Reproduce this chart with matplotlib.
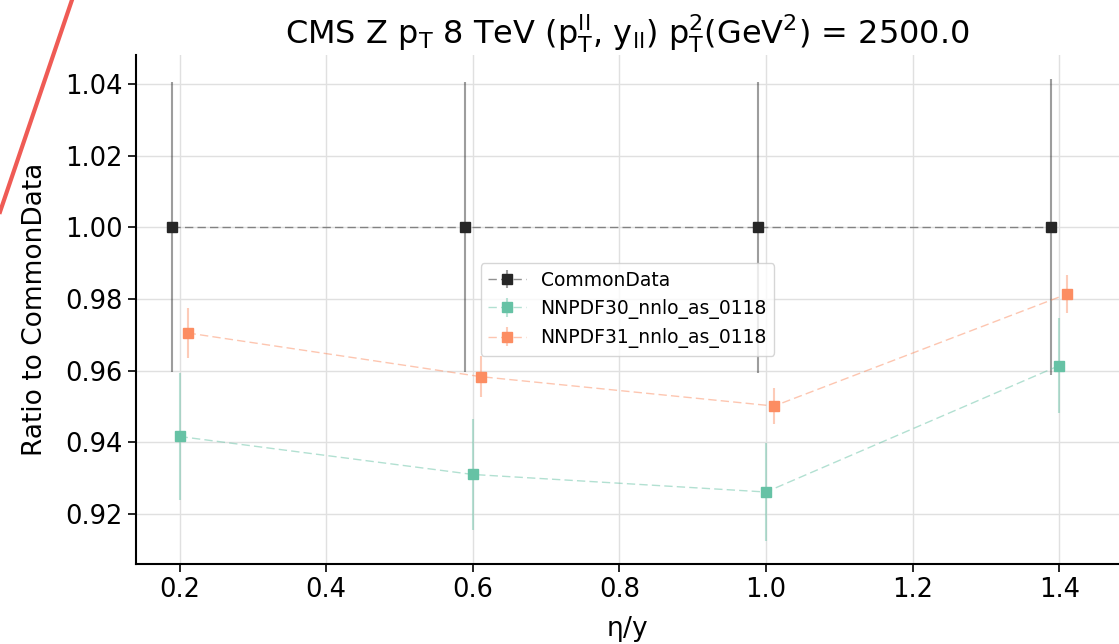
import numpy as np
import matplotlib
matplotlib.use("Agg")
from matplotlib import pyplot as plt
from matplotlib.colors import to_rgba
from matplotlib.lines import Line2D

# bin centres in eta/y and ratios to the experimental central values
eta = np.array([0.2, 0.6, 1.0, 1.4])
offsets = [-0.011, 0.0, 0.011]

labels = ["CommonData", "NNPDF30_nnlo_as_0118", "NNPDF31_nnlo_as_0118"]
colours = ["#262626", "#66c2a5", "#fc8d62"]

data_ratio = [1.0, 1.0, 1.0, 1.0]
data_err = [0.0405, 0.0405, 0.0407, 0.0413]

nnpdf30_ratio = [0.9416, 0.9310, 0.9261, 0.9614]
nnpdf30_err = [0.0177, 0.0156, 0.0138, 0.0133]

nnpdf31_ratio = [0.9705, 0.9583, 0.9501, 0.9814]
nnpdf31_err = [0.0070, 0.0058, 0.0050, 0.0052]

ratios = [data_ratio, nnpdf30_ratio, nnpdf31_ratio]
errors = [data_err, nnpdf30_err, nnpdf31_err]

plt.rcParams["mathtext.default"] = "regular"

fig = plt.figure(figsize=(11.19, 6.44), dpi=100)
ax = fig.add_axes([0.1215, 0.1242, 0.8785, 0.7904])

for i in range(len(labels)):
    c = colours[i]
    ax.errorbar(eta + offsets[i], ratios[i], yerr=errors[i],
                fmt='s', linestyle=(0, (6, 3)), linewidth=1,
                color=to_rgba(c, 0.5), mfc=c, mec=c, markersize=7,
                ecolor=to_rgba(c, 0.45), elinewidth=1.5,
                label=labels[i], zorder=3)

ax.set_xlim(0.1405, 1.4815)
ax.set_ylim(0.906, 1.0481)
ax.set_yticks([0.92, 0.94, 0.96, 0.98, 1.00, 1.02, 1.04])
ax.set_xticks([0.2, 0.4, 0.6, 0.8, 1.0, 1.2, 1.4])

ax.grid(True, color="#e0e0e0", linewidth=1)
ax.set_axisbelow(True)
for side in ["top", "right"]:
    ax.spines[side].set_visible(False)
for side in ["left", "bottom"]:
    ax.spines[side].set_linewidth(1.5)
ax.tick_params(labelsize=18.5, length=6, width=1.2)

ax.set_xlabel(r"$\eta$/y", fontsize=19, labelpad=8)
ax.set_ylabel("Ratio to CommonData", fontsize=19, labelpad=12)
ax.set_title(r"CMS Z $p_T$ 8 TeV ($p_T^{ll}$, $y_{ll}$) $p_T^2$(GeV$^2$) = 2500.0",
             fontsize=23, pad=8)
ax.legend(loc="center", fontsize=13.5)

# stray red stroke across the top left corner
fig.add_artist(Line2D([0.0, 0.0643], [0.671, 1.0], transform=fig.transFigure,
                      color="#ef5b55", linewidth=3))

fig.savefig("out.png", dpi=100)
